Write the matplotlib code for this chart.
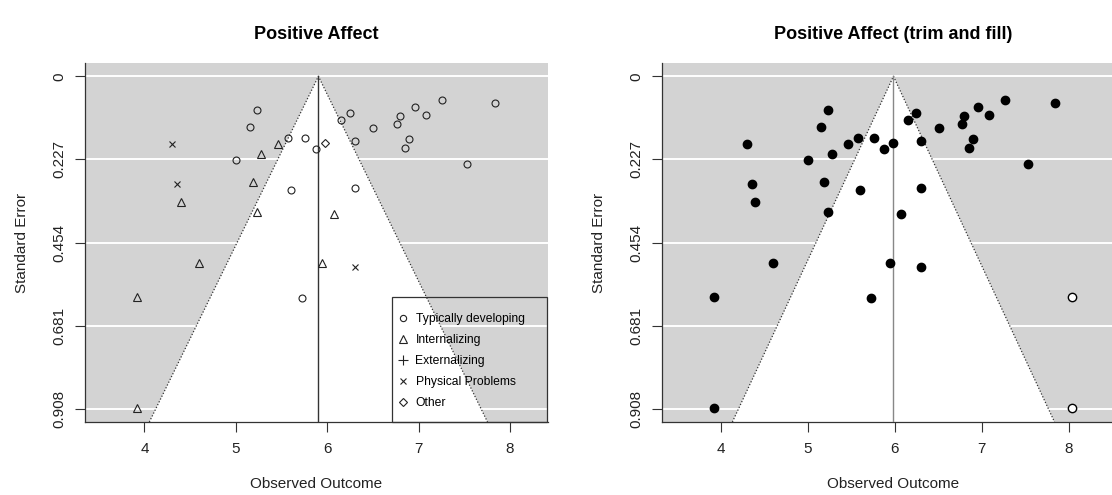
import matplotlib
matplotlib.use("Agg")
import matplotlib.pyplot as plt
from matplotlib.lines import Line2D
from matplotlib.patches import Rectangle

plt.rcParams['font.family'] = ['Liberation Sans', 'DejaVu Sans']

# ---- data (observed outcome, standard error) ----
td_x = [5.23, 5.157, 5.007, 5.575, 5.758, 5.875, 5.605, 6.149, 6.247, 6.305, 6.505,
        6.768, 6.798, 6.958, 7.079, 7.26, 7.837, 6.90, 6.849, 7.534, 6.305, 5.729]
td_se = [0.091, 0.139, 0.228, 0.168, 0.169, 0.198, 0.311, 0.118, 0.099, 0.178, 0.1425,
         0.129, 0.109, 0.0835, 0.106, 0.0644, 0.0717, 0.1707, 0.195, 0.24, 0.305, 0.605]
int_x = [5.466, 5.277, 5.186, 4.398, 5.23, 6.075, 4.598, 5.948, 3.923, 3.923]
int_se = [0.186, 0.213, 0.29, 0.343, 0.371, 0.377, 0.5095, 0.5095, 0.602, 0.906]
ext_x = []
ext_se = []
phys_x = [4.30, 4.354, 6.305]
phys_se = [0.185, 0.294, 0.52]
oth_x = [5.977]
oth_se = [0.1825]
filled_x = [8.04, 8.04]
filled_se = [0.602, 0.906]

est_left = 5.904
est_right = 5.984
yticks = [0, 0.227, 0.454, 0.681, 0.908]
ytick_labels = ["0", "0.227", "0.454", "0.681", "0.908"]
xticks = [4, 5, 6, 7, 8]
titles = ["Positive Affect", "Positive Affect (trim and fill)"]
legend_labels = ["Typically developing", "Internalizing", "Externalizing",
                 "Physical Problems", "Other"]

W, H = 1112, 495
fig = plt.figure(figsize=(W / 100, H / 100), dpi=100)

ylim = (0.944, -0.0363)
gray = "#D3D3D3"


def setup(ax, est, xlim, vcol):
    ax.set_xlim(*xlim)
    ax.set_ylim(*ylim)
    ax.set_facecolor(gray)
    for yt in yticks:
        ax.axhline(yt, color="white", lw=1.4, zorder=1)
    ymax = ylim[0]
    fx = [est - 1.96 * ymax, est, est + 1.96 * ymax]
    fy = [ymax, 0, ymax]
    ax.fill(fx, fy, color="white", zorder=2, lw=0)
    ax.plot(fx, fy, color="#333333", lw=0.9, ls=(0, (1, 1.5)), zorder=3)
    ax.plot([est, est], [ymax, 0], color=vcol, lw=1.0, zorder=3)
    ax.set_yticks(yticks)
    ax.set_yticklabels(ytick_labels, rotation=90, va="center")
    ax.set_xticks(xticks)
    ax.tick_params(axis="both", labelsize=11, length=7.2, width=0.8, color="#333333",
                   labelcolor="#222222")
    ax.tick_params(axis="y", pad=6)
    ax.tick_params(axis="x", pad=7)
    for s in ["top", "right"]:
        ax.spines[s].set_visible(False)
    for s in ["left", "bottom"]:
        ax.spines[s].set_linewidth(0.9)
        ax.spines[s].set_color("#333333")
    ax.set_xlabel("Observed Outcome", fontsize=11, labelpad=15, color="#222222")
    ax.set_ylabel("Standard Error", fontsize=11, labelpad=17, color="#222222")


ax_w, ax_h = 463, 359
# left panel
ax1 = fig.add_axes([85 / W, 1 - 422 / H, ax_w / W, ax_h / H])
setup(ax1, est_left, (3.35, 8.416), "#333333")
ax1.set_title(titles[0], fontsize=13, fontweight="bold", pad=17)
ms = 5
kw = dict(linestyle="none", mfc="none", mec="#222222", mew=0.8)
ax1.plot(td_x, td_se, marker="o", ms=ms, zorder=4, **kw)
ax1.plot(int_x, int_se, marker="^", ms=ms + 0.5, zorder=4, **kw)
ax1.plot(ext_x, ext_se, marker="+", ms=ms + 1, zorder=4, **kw)
ax1.plot(phys_x, phys_se, marker="x", ms=ms - 0.5, zorder=4, **kw)
ax1.plot(oth_x, oth_se, marker="D", ms=ms - 0.5, zorder=4, **kw)

handles = [
    Line2D([], [], marker="o", ms=4.5, **kw),
    Line2D([], [], marker="^", ms=5.5, **kw),
    Line2D([], [], marker="+", ms=6.5, **kw),
    Line2D([], [], marker="x", ms=4.5, **kw),
    Line2D([], [], marker="D", ms=4.5, **kw),
]
# legend frame (px in reference: x 392..547, y 297..422)
rect = Rectangle(((392 - 85) / ax_w, 0), (547 - 392) / ax_w, (422 - 297) / ax_h,
                 transform=ax1.transAxes, fill=False, edgecolor="#333333", lw=0.9,
                 zorder=5, clip_on=False)
ax1.add_patch(rect)
leg = ax1.legend(handles, legend_labels, loc="upper left",
                 bbox_to_anchor=((401 - 85) / ax_w, (422 - 313) / ax_h),
                 fontsize=8.7, frameon=False, borderaxespad=0, borderpad=0,
                 handlelength=0.4, handletextpad=0.8, labelspacing=0.74)
leg.set_zorder(5)

# right panel
ax2 = fig.add_axes([661.7 / W, 1 - 422 / H, ax_w / W, ax_h / H])
setup(ax2, est_right, (3.322, 8.64), "#888888")
ax2.set_title(titles[1], fontsize=13, fontweight="bold", pad=17)
all_x = td_x + int_x + ext_x + phys_x + oth_x
all_se = td_se + int_se + ext_se + phys_se + oth_se
ax2.plot(all_x, all_se, linestyle="none", marker="o", ms=6, mfc="black", mec="black",
         zorder=4)
ax2.plot(filled_x, filled_se, linestyle="none", marker="o", ms=6, mfc="white",
         mec="black", mew=1.0, zorder=4)

fig.savefig("out.png", dpi=100)
